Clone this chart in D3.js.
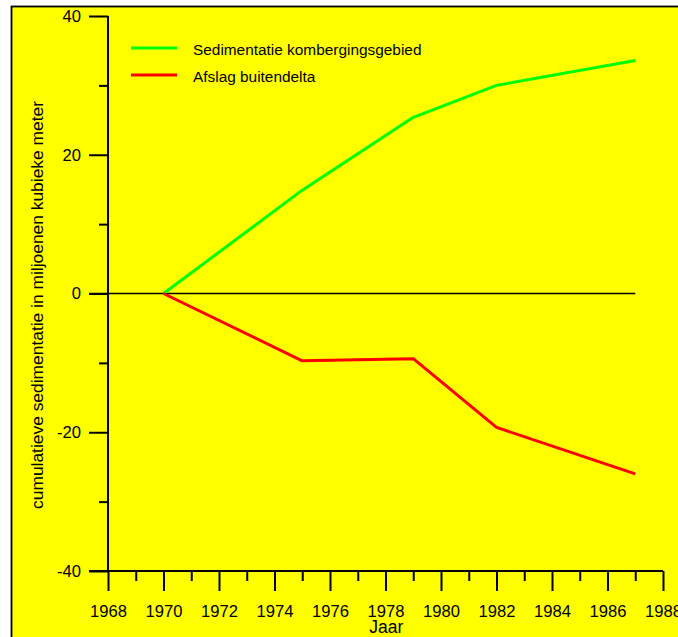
<!DOCTYPE html>
<html>
<head>
<meta charset="utf-8">
<script src="https://cdn.jsdelivr.net/npm/d3@7"></script>
<style>
  html, body { margin: 0; padding: 0; background: #ffffff; }
  svg { display: block; }
  text { font-family: "Liberation Sans", Arial, Helvetica, sans-serif; fill: #000; }
</style>
</head>
<body>
<script>
// Cumulative sedimentation (million m³) per year
const years = [1970, 1975, 1979, 1982, 1987];
const sedimentatieKomberging = [0, 14.9, 25.4, 30.0, 33.6];
const afslagBuitendelta = [0, -9.7, -9.4, -19.3, -26.0];

const seriesNames = ["Sedimentatie kombergingsgebied", "Afslag buitendelta"];
const seriesColors = ["#00ff00", "#ff0000"];

const xMajorTicks = [1968, 1970, 1972, 1974, 1976, 1978, 1980, 1982, 1984, 1986, 1988];
const xMinorTicks = [1969, 1971, 1973, 1975, 1977, 1979, 1981, 1983, 1985, 1987];
const yMajorTicks = [-40, -20, 0, 20, 40];
const yMinorTicks = [-30, -10, 10, 30];

const W = 678, H = 637;
const svg = d3.select("body").append("svg").attr("width", W).attr("height", H);

// panel background with frame
svg.append("rect")
  .attr("x", 11.5).attr("y", 6.5)
  .attr("width", 800).attr("height", 800)
  .attr("fill", "#ffff00")
  .attr("stroke", "#000").attr("stroke-width", 1.8);

const x = d3.scaleLinear().domain([1968, 1988]).range([108, 663]);
const y = d3.scaleLinear().domain([-40, 40]).range([571, 16]);

// plain hyphen for negative labels
const fmt = d => String(d);

// x axis: major and minor ticks
const gxMinor = svg.append("g").attr("transform", `translate(0,${y(-40)})`)
  .call(d3.axisBottom(x).tickValues(xMinorTicks).tickSize(10).tickFormat(""));
const gx = svg.append("g").attr("transform", `translate(0,${y(-40)})`)
  .call(d3.axisBottom(x).tickValues(xMajorTicks).tickSize(20).tickPadding(14).tickFormat(fmt));

// y axis: major and minor ticks
const gyMinor = svg.append("g").attr("transform", `translate(${x(1968)},0)`)
  .call(d3.axisLeft(y).tickValues(yMinorTicks).tickSize(9).tickFormat(""));
const gy = svg.append("g").attr("transform", `translate(${x(1968)},0)`)
  .call(d3.axisLeft(y).tickValues(yMajorTicks).tickSize(19).tickPadding(8).tickFormat(fmt));

[gxMinor, gx, gyMinor, gy].forEach(g => {
  g.select(".domain").remove();
  g.selectAll(".tick line").attr("stroke", "#000").attr("stroke-width", 2);
  g.selectAll("text").attr("font-size", 16.6).attr("fill", "#000")
    .style("font-family", '"Liberation Sans", Arial, sans-serif');
});

// axis lines
svg.append("line")
  .attr("x1", x(1968) - 19).attr("x2", x(1988))
  .attr("y1", y(-40)).attr("y2", y(-40))
  .attr("stroke", "#000").attr("stroke-width", 2);
svg.append("line")
  .attr("x1", x(1968)).attr("x2", x(1968))
  .attr("y1", y(40)).attr("y2", y(-40))
  .attr("stroke", "#000").attr("stroke-width", 2);

// zero reference line
svg.append("line")
  .attr("x1", x(1968) - 19).attr("x2", x(1987))
  .attr("y1", y(0)).attr("y2", y(0))
  .attr("stroke", "#000").attr("stroke-width", 1.6);

// data lines
const line = d3.line().x(d => x(d[0])).y(d => y(d[1]));
const series = [sedimentatieKomberging, afslagBuitendelta];
series.forEach((vals, i) => {
  svg.append("path")
    .datum(years.map((yr, j) => [yr, vals[j]]))
    .attr("d", line)
    .attr("fill", "none")
    .attr("stroke", seriesColors[i])
    .attr("stroke-width", 3)
    .attr("stroke-linejoin", "round");
});

// legend
seriesNames.forEach((name, i) => {
  const ly = 48 + i * 27;
  svg.append("line")
    .attr("x1", 131).attr("x2", 177)
    .attr("y1", ly).attr("y2", ly)
    .attr("stroke", seriesColors[i]).attr("stroke-width", 3);
  svg.append("text")
    .attr("x", 193).attr("y", ly + 6.5)
    .attr("font-size", 15.4)
    .text(name);
});

// axis titles
svg.append("text")
  .attr("x", x(1979) - 27).attr("y", 633)
  .attr("text-anchor", "middle")
  .attr("font-size", 17.5)
  .text("Jaar");

svg.append("text")
  .attr("transform", "translate(43,305) rotate(-90)")
  .attr("text-anchor", "middle")
  .attr("font-size", 17.4)
  .text("cumulatieve sedimentatie in miljoenen kubieke meter");
</script>
</body>
</html>
